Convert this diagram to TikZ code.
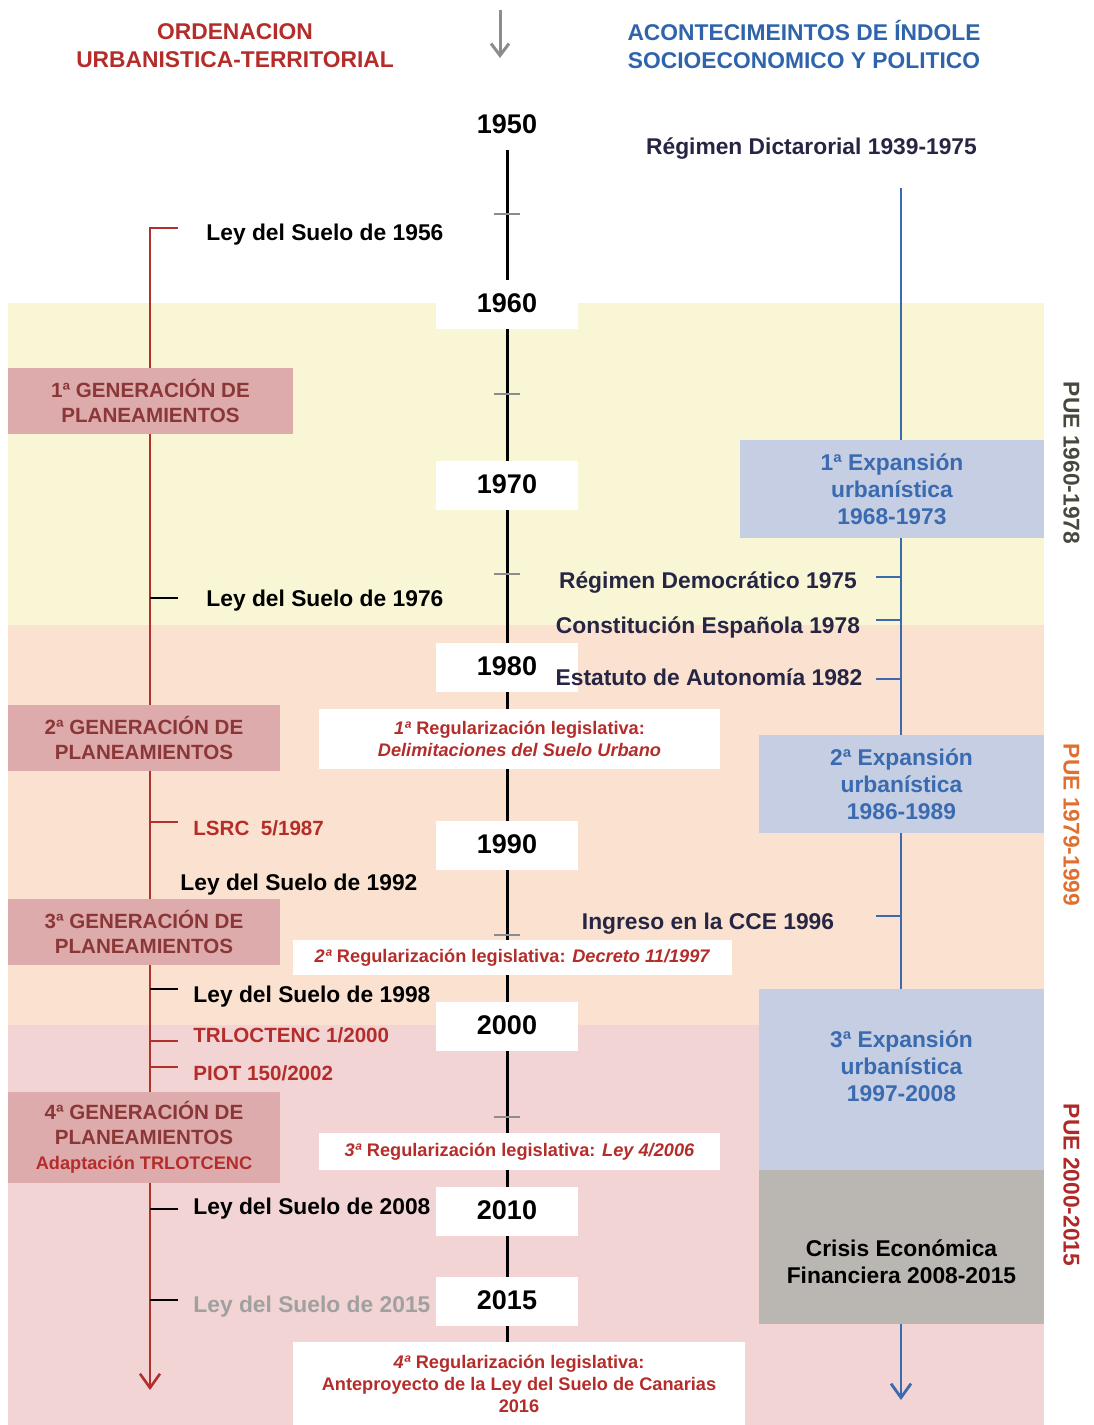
\documentclass[tikz,border=0pt]{standalone}
\usepackage{fontspec}
\setmainfont{Liberation Sans}
\usepackage{tikz}
\usetikzlibrary{calc}
\usetikzlibrary{positioning}
\usetikzlibrary{arrows.meta}

\definecolor{ordred}{RGB}{180,45,42}
\definecolor{evblue}{RGB}{47,100,172}
\definecolor{navy}{RGB}{38,38,68}
\definecolor{genfill}{RGB}{221,171,171}
\definecolor{genred}{RGB}{139,55,55}
\definecolor{expfill}{RGB}{197,206,226}
\definecolor{exptext}{RGB}{58,106,176}
\definecolor{crisisfill}{RGB}{186,182,177}
\definecolor{bandyellow}{RGB}{248,246,213}
\definecolor{bandpeach}{RGB}{251,226,208}
\definecolor{bandpink}{RGB}{242,212,212}
\definecolor{tickgray}{RGB}{140,140,140}
\definecolor{oldgray}{RGB}{160,160,160}
\definecolor{redline}{RGB}{176,48,44}
\definecolor{blueline}{RGB}{60,106,174}
\definecolor{pueone}{RGB}{72,72,62}
\definecolor{puetwo}{RGB}{224,112,48}
\definecolor{puethree}{RGB}{176,40,40}

\pgfdeclarelayer{bands}
\pgfdeclarelayer{lines}
\pgfsetlayers{bands,lines,main}

\begin{document}
\begin{tikzpicture}[x=0.5pt, y=-0.5pt,
	txt/.style={inner sep=0pt, text height=.85em, text depth=0pt, font=\fontsize{11.4}{13.5}\selectfont\bfseries},
	redtxt/.style={txt, text=ordred, font=\fontsize{10.3}{12.5}\selectfont\bfseries},
	head/.style={align=center, inner sep=0pt, font=\fontsize{11.4}{14}\selectfont\bfseries},
	yearbox/.style={fill=white, minimum width=71pt, minimum height=24.5pt, inner sep=0pt, text height=.85em, text depth=0pt, font=\fontsize{13.5}{16}\selectfont\bfseries},
	regbox/.style={fill=white, text=ordred, align=center, inner sep=0pt, font=\fontsize{9.1}{11}\selectfont\bfseries},
	genbox/.style={fill=genfill, text=genred, align=center, inner sep=0pt, minimum width=136pt, minimum height=33pt, font=\fontsize{10.3}{12.5}\selectfont\bfseries},
	expbox/.style={fill=expfill, text=exptext, align=center, inner sep=0pt, minimum width=142.5pt, font=\fontsize{11.4}{13.5}\selectfont\bfseries},
	stub/.style={line width=1.2pt}
	]
	\useasboundingbox (0,0) rectangle (1093,1425);
	
	% period bands
	\begin{pgfonlayer}{bands}
		\fill[bandyellow] (8,303) rectangle (1044,625);
		\fill[bandpeach] (8,625) rectangle (1044,1025);
		\fill[bandpink] (8,1025) rectangle (1044,1425);
	\end{pgfonlayer}
	
	% headings
	\node[head, text=ordred] (hord) at (235,46) {ORDENACION\\URBANISTICA-TERRITORIAL};
	\node[head, text=evblue] (hev) at (804,45) {ACONTECIMEINTOS DE ÍNDOLE\\SOCIOECONOMICO Y POLITICO};
	\coordinate (atop) at (500,10);
	\coordinate (abot) at (500,58);
	\draw[line width=1.5pt, tickgray, -{Straight Barb[length=6pt,width=9pt]}] (atop) -- (abot);
	
	% years
	\node[yearbox] (Y1950) at (507,125) {1950};
	\node[yearbox] (Y1960) at (507,304) {1960};
	\node[yearbox] (Y1970) at (507,485) {1970};
	\node[yearbox] (Y1980) at (507,667) {1980};
	\node[yearbox] (Y1990) at (507,845) {1990};
	\node[yearbox] (Y2000) at (507,1026) {2000};
	\node[yearbox] (Y2010) at (507,1211) {2010};
	\node[yearbox] (Y2015) at (507,1301) {2015};
	
	% regularizaciones
	\node[regbox, minimum width=200.5pt, minimum height=30pt] (R1) at (519.5,739) {\textit{1ª} Regularización legislativa:\\\textit{Delimitaciones del Suelo Urbano}};
	\node[regbox, minimum width=219.5pt, minimum height=17.5pt] (R2) at (512.5,957.5) {\textit{2ª} Regularización legislativa: \textit{Decreto 11/1997}};
	\node[regbox, minimum width=200.5pt, minimum height=18.5pt] (R3) at (519.5,1151.5) {\textit{3ª} Regularización legislativa: \textit{Ley 4/2006}};
	\node[regbox, minimum width=226pt, minimum height=42pt] (R4) at (519,1384) {\textit{4ª} Regularización legislativa:\\Anteproyecto de la Ley del Suelo de Canarias\\2016};
	
	% generaciones
	\node[genbox, minimum width=142.5pt] (G1) at (150.5,401) {1ª GENERACIÓN DE\\PLANEAMIENTOS};
	\node[genbox] (G2) at (144,738) {2ª GENERACIÓN DE\\PLANEAMIENTOS};
	\node[genbox] (G3) at (144,932) {3ª GENERACIÓN DE\\PLANEAMIENTOS};
	\node[genbox, minimum height=45.5pt] (G4) at (144,1137.5) {4ª GENERACIÓN DE\\PLANEAMIENTOS\\{\color{ordred}\fontsize{9.1}{11}\selectfont Adaptación TRLOTCENC}};
	
	% leyes
	\node[txt, anchor=west] (L1956) at (206,232) {Ley del Suelo de 1956};
	\node[txt, anchor=west] (L1976) at (206,598) {Ley del Suelo de 1976};
	\node[redtxt, anchor=west] (LSRC) at (193,827) {LSRC\ \ 5/1987};
	\node[txt, anchor=west] (L1992) at (180,882) {Ley del Suelo de 1992};
	\node[txt, anchor=west] (L1998) at (193,994) {Ley del Suelo de 1998};
	\node[redtxt, anchor=west] (TRL) at (193,1034) {TRLOCTENC 1/2000};
	\node[redtxt, anchor=west] (PIOT) at (193,1072) {PIOT 150/2002};
	\node[txt, anchor=west] (L2008) at (193,1206) {Ley del Suelo de 2008};
	\node[txt, anchor=west, text=oldgray] (L2015) at (193,1304) {Ley del Suelo de 2015};
	
	% acontecimientos
	\node[txt, text=navy] (dict) at (811.5,146) {Régimen Dictarorial 1939-1975};
	\node[txt, text=navy] (demo) at (708,580) {Régimen Democrático 1975};
	\node[txt, text=navy] (const) at (708,625) {Constitución Española 1978};
	\node[txt, text=navy] (estat) at (709,677) {Estatuto de Autonomía 1982};
	\node[txt, text=navy] (cce) at (708,921) {Ingreso en la CCE 1996};
	
	\node[expbox, minimum width=152pt, minimum height=49pt] (E1) at (892,489) {1ª Expansión\\urbanística\\1968-1973};
	\node[expbox, minimum height=49pt] (E2) at (901.5,784) {2ª Expansión\\urbanística\\1986-1989};
	\node[expbox, minimum height=77pt] (E3) at (901.5,1066) {3ª Expansión\\urbanística\\1997-2008};
	\node[expbox, fill=crisisfill, text=black, minimum height=62.5pt] (C) at (901.5,1261.5) {Crisis Económica\\Financiera 2008-2015};
	\coordinate (split) at (1044,1170);
	\fill[expfill] (E3.south west) rectangle (split);
	\fill[crisisfill] (split) rectangle (C.north west);
	
	% periodos
	\node[txt, rotate=-90, text=pueone] (P1) at (1072,463) {PUE 1960-1978};
	\node[txt, rotate=-90, text=puetwo] (P2) at (1072,825) {PUE 1979-1999};
	\node[txt, rotate=-90, text=puethree] (P3) at (1072,1185) {PUE 2000-2015};
	
	\begin{pgfonlayer}{lines}
		% central axis
		\draw[line width=1.5pt] (Y1950.south) -- (R4.north -| Y1950);
		\draw[tickgray, line width=0.8pt] (494,214) -- (520,214);
		\draw[tickgray, line width=0.8pt] (494,394) -- (520,394);
		\draw[tickgray, line width=0.8pt] (494,574) -- (520,574);
		\draw[tickgray, line width=0.8pt] (494,935) -- (520,935);
		\draw[tickgray, line width=0.8pt] (494,1117) -- (520,1117);
		
		% red axis
		\coordinate (rtop) at (178,228);
		\coordinate (rend) at (150,1390);
		\draw[redline, line width=1.3pt, -{Straight Barb[length=7pt,width=10pt]}] (rtop) -| (rend);
		\draw[stub] (150,598) -- (178,598);
		\draw[stub, redline] (150,822) -- (178,822);
		\draw[stub] (150,989) -- (178,989);
		\draw[stub, redline] (150,1041) -- (178,1041);
		\draw[stub, redline] (150,1067) -- (178,1067);
		\draw[stub] (150,1209) -- (178,1209);
		\draw[stub] (150,1300) -- (178,1300);
		
		% blue axis
		\coordinate (btop) at (901,188);
		\coordinate (bend) at (901,1400);
		\draw[blueline, line width=1.4pt, -{Straight Barb[length=7pt,width=10pt]}] (btop) -- (bend);
		\draw[stub, blueline] (876,577) -- (901,577);
		\draw[stub, blueline] (876,620) -- (901,620);
		\draw[stub, blueline] (876,679) -- (901,679);
		\draw[stub, blueline] (876,916) -- (901,916);
	\end{pgfonlayer}
\end{tikzpicture}
\end{document}
